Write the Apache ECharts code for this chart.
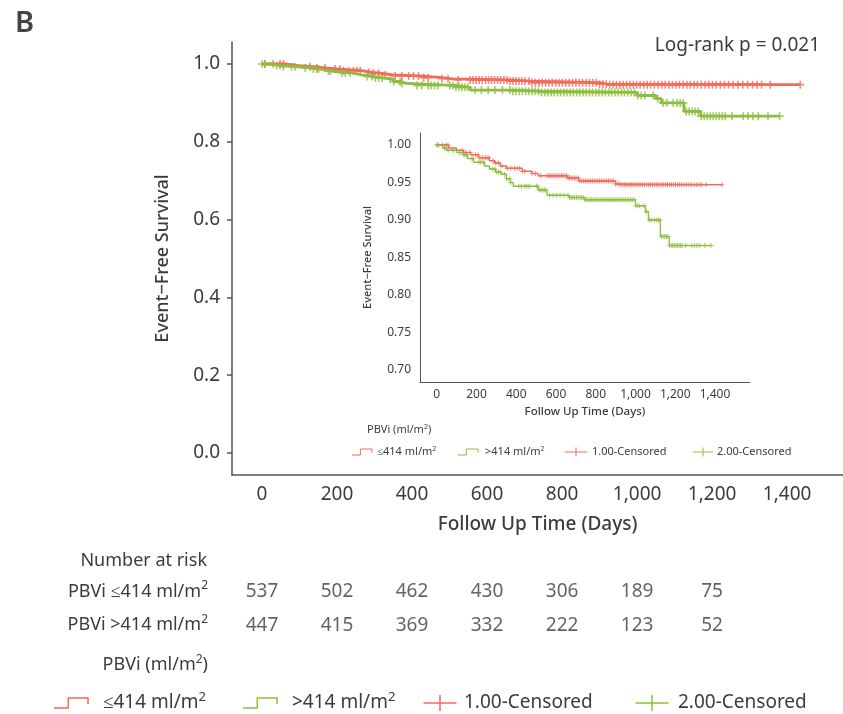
<!DOCTYPE html>
<html>
<head>
<meta charset="utf-8">
<script src="https://cdn.jsdelivr.net/npm/echarts@6/dist/echarts.min.js"></script>
<style>html,body{margin:0;padding:0;background:#fff}#chart{width:843px;height:714px}</style>
</head>
<body>
<div id="chart"></div>
<script>
var RED = '#F26B5B', GREEN = '#8DBE3F', TXT = '#3c3c3c', AXIS = '#555';
var FONT = 'Noto Sans';

// KM steps: time (days) and survival from that time on
var lowTimes = [0, 60, 100, 135, 170, 210, 265, 290, 320, 350, 430, 480, 510, 660, 715, 900, 920];
var lowSurv = [1.0, 0.996, 0.993, 0.990, 0.987, 0.983, 0.979, 0.976, 0.972, 0.969, 0.965, 0.962, 0.959, 0.956, 0.952, 0.948, 0.947];
var lowEnd = 1435;
var highTimes = [0, 30, 50, 100, 130, 155, 185, 240, 265, 295, 325, 350, 370, 385, 510, 555, 665, 745, 1000, 1050, 1065, 1125, 1170];
var highSurv = [1.0, 0.996, 0.993, 0.990, 0.987, 0.982, 0.977, 0.972, 0.968, 0.964, 0.961, 0.955, 0.950, 0.945, 0.940, 0.933, 0.930, 0.927, 0.919, 0.911, 0.900, 0.878, 0.866];
var highEnd = 1380;

// censoring times (days)
var lowCensor = [8, 30, 48, 57, 128, 146, 168, 195, 208, 217, 231, 244, 253, 262, 284, 297, 311, 328, 355, 373, 391, 404, 417, 431,
  443, 480, 496, 523, 555, 563, 571, 579, 587, 596, 604, 612, 620, 628, 636, 645, 653, 661, 669, 677, 685, 693,
  701, 712, 720, 729, 738, 747, 756, 765, 774, 783, 792, 801, 810, 819, 828, 837, 846, 855, 864, 873, 882, 891, 900, 909,
  918, 927, 936, 945, 954, 963, 972, 981, 990, 999, 1008, 1018, 1027, 1036, 1046, 1056, 1066, 1075, 1085, 1094, 1104,
  1113, 1123, 1133, 1142, 1152, 1161, 1171, 1181, 1191, 1201, 1211, 1222, 1233, 1244, 1256, 1269, 1282, 1295, 1308,
  1320, 1332, 1355, 1435];
var highCensor = [0, 8, 39, 48, 57, 79, 88, 115, 137, 146, 151, 177, 182, 213, 222, 235, 280, 293, 302, 311, 320, 342, 351,
  368, 373, 413, 426, 443, 451, 460, 469, 501, 509, 517, 525, 533, 541, 549, 568, 585, 603, 621, 641, 661, 669, 677, 686,
  694, 703, 711, 720, 728, 737, 745, 754, 762, 771, 779, 788, 796, 805, 813, 822, 830, 839, 847, 856, 864, 873, 881, 890,
  898, 907, 915, 924, 932, 941, 949, 958, 966, 975, 984, 993, 1002, 1011, 1021, 1043, 1055, 1069, 1079, 1096, 1107,
  1115, 1123, 1131, 1139, 1147, 1155, 1163, 1171, 1179, 1187, 1195, 1203, 1211, 1219, 1227, 1235, 1253, 1283, 1296,
  1309, 1323, 1349, 1380];

// number at risk
var riskTimes = [0, 200, 400, 600, 800, 1000, 1200];
var riskLow = [537, 502, 462, 430, 306, 189, 75];
var riskHigh = [447, 415, 369, 332, 222, 123, 52];
var riskRows = ['PBVi ≤414 ml/m', 'PBVi >414 ml/m'];

var mainYTicks = [0, 0.2, 0.4, 0.6, 0.8, 1.0];
var mainXTicks = [0, 200, 400, 600, 800, 1000, 1200, 1400];
var insetYTicks = [0.70, 0.75, 0.80, 0.85, 0.90, 0.95, 1.00];

function survAt(times, surv, t) {
  var s = surv[0];
  for (var i = 0; i < times.length; i++) { if (times[i] <= t) s = surv[i]; }
  return s;
}
function curve(times, surv, end) {
  var d = times.map(function (t, i) { return [t, surv[i]]; });
  d.push([end, surv[surv.length - 1]]);
  return d;
}
function censorPts(times, surv, cens) {
  return cens.map(function (t) { return [t, survAt(times, surv, t)]; });
}

var PLUS = 'path://M4,0h2v4h4v2h-4v4h-2v-4h-4v-2h4z';

function kmSeries(axis, lw, ms) {
  return [
    { type: 'line', xAxisIndex: axis, yAxisIndex: axis, step: 'end', showSymbol: false, silent: true,
      data: curve(lowTimes, lowSurv, lowEnd), lineStyle: { color: RED, width: lw } },
    { type: 'line', xAxisIndex: axis, yAxisIndex: axis, step: 'end', showSymbol: false, silent: true,
      data: curve(highTimes, highSurv, highEnd), lineStyle: { color: GREEN, width: lw } },
    { type: 'scatter', xAxisIndex: axis, yAxisIndex: axis, symbol: PLUS, symbolSize: ms, silent: true,
      data: censorPts(lowTimes, lowSurv, lowCensor), itemStyle: { color: RED } },
    { type: 'scatter', xAxisIndex: axis, yAxisIndex: axis, symbol: PLUS, symbolSize: ms, silent: true,
      data: censorPts(highTimes, highSurv, highCensor), itemStyle: { color: GREEN } }
  ];
}

function riskSeries(vals, row) {
  return {
    type: 'scatter', xAxisIndex: 2, yAxisIndex: 2, symbolSize: 1, silent: true,
    itemStyle: { color: 'transparent' },
    data: riskTimes.map(function (t, i) { return [t, row, vals[i]]; }),
    label: { show: true, position: 'inside', formatter: function (p) { return p.data[2]; },
      fontFamily: FONT, fontSize: 19, color: TXT }
  };
}

var supRich = function (size, lh) {
  return {
    b: { fontFamily: FONT, fontSize: size, color: TXT, lineHeight: lh },
    s: { fontFamily: FONT, fontSize: Math.round(size * 0.68), color: TXT, verticalAlign: 'top', lineHeight: Math.round(size * 0.75) }
  };
};

function txt(x, y, text, size, align, extra) {
  var st = { text: text, x: x, y: y, fontFamily: FONT, fontSize: size, fill: TXT,
    textAlign: align || 'left', textVerticalAlign: 'middle' };
  if (extra) for (var k in extra) st[k] = extra[k];
  return { type: 'text', style: st, silent: true };
}
function supTxt(x, y, base, sup, size, align, tail) {
  return txt(x, y, '{b|' + base + '}{s|' + sup + '}' + (tail ? '{b|' + tail + '}' : ''), size, align,
    { rich: supRich(size, Math.round(size * 1.3)) });
}
function stepIcon(x, y, w, h, color, lw) {
  return { type: 'polyline', silent: true,
    shape: { points: [[x, y + h / 2], [x + w * 0.42, y + h / 2], [x + w * 0.42, y - h / 2], [x + w, y - h / 2], [x + w, y + h * 0.1]] },
    style: { stroke: color, lineWidth: lw, fill: null } };
}
function plusIcon(cx, cy, w, h, color, lw) {
  return { type: 'group', silent: true, children: [
    { type: 'line', shape: { x1: cx - w / 2, y1: cy, x2: cx + w / 2, y2: cy }, style: { stroke: color, lineWidth: lw } },
    { type: 'line', shape: { x1: cx, y1: cy - h / 2, x2: cx, y2: cy + h / 2 }, style: { stroke: color, lineWidth: lw } }
  ] };
}

var chart = echarts.init(document.getElementById('chart'), null, { renderer: 'canvas' });

var option = {
  animation: false,
  backgroundColor: '#fff',
  grid: [
    { left: 232, top: 42, width: 611, height: 433 },
    { left: 420, top: 133, width: 330, height: 249 },
    { left: 232, top: 575, width: 611, height: 67 }
  ],
  xAxis: [
    { type: 'value', gridIndex: 0, min: -80, max: 1549, splitLine: { show: false },
      axisLine: { onZero: false, lineStyle: { color: AXIS, width: 1.5 } }, axisTick: { show: false },
      axisLabel: { customValues: mainXTicks, margin: 10, fontFamily: FONT, fontSize: 19, color: TXT,
        formatter: function (v) { return v.toLocaleString('en-US'); } },
      name: 'Follow Up Time (Days)', nameLocation: 'middle', nameGap: 40,
      nameTextStyle: { fontFamily: FONT, fontSize: 19, fontWeight: 500, color: TXT } },
    { type: 'value', gridIndex: 1, min: -84, max: 1576, splitLine: { show: false },
      axisLine: { onZero: false, lineStyle: { color: AXIS, width: 1 } }, axisTick: { show: false },
      axisLabel: { customValues: mainXTicks, margin: 7, fontFamily: FONT, fontSize: 12, color: TXT,
        formatter: function (v) { return v.toLocaleString('en-US'); } },
      name: 'Follow Up Time (Days)', nameLocation: 'middle', nameGap: 24,
      nameTextStyle: { fontFamily: FONT, fontSize: 11.5, fontWeight: 500, color: TXT } },
    { type: 'value', gridIndex: 2, min: -80, max: 1549, show: false }
  ],
  yAxis: [
    { type: 'value', gridIndex: 0, min: -0.0566, max: 1.0566, splitLine: { show: false },
      axisLine: { show: true, onZero: false, lineStyle: { color: AXIS, width: 1.5 } },
      axisTick: { show: true, customValues: mainYTicks, length: 5, lineStyle: { color: AXIS, width: 1.5 } },
      axisLabel: { customValues: mainYTicks, margin: 12, fontFamily: FONT, fontSize: 19, color: TXT,
        formatter: function (v) { return v.toFixed(1); } },
      name: 'Event−Free Survival', nameLocation: 'middle', nameGap: 60,
      nameTextStyle: { fontFamily: FONT, fontSize: 18, fontWeight: 500, color: TXT } },
    { type: 'value', gridIndex: 1, min: 0.684, max: 1.016, splitLine: { show: false },
      axisLine: { show: true, onZero: false, lineStyle: { color: AXIS, width: 1 } }, axisTick: { show: false },
      axisLabel: { customValues: insetYTicks, margin: 9, fontFamily: FONT, fontSize: 12, color: TXT,
        formatter: function (v) { return v.toFixed(2); } },
      name: 'Event−Free Survival', nameLocation: 'middle', nameGap: 47,
      nameTextStyle: { fontFamily: FONT, fontSize: 11, fontWeight: 500, color: TXT } },
    { type: 'category', gridIndex: 2, data: riskRows, inverse: true,
      axisLine: { show: false }, axisTick: { show: false },
      axisLabel: { margin: 24, formatter: function (v) { return '{b|' + v + '}{s|2}'; }, rich: supRich(18, 24) } }
  ],
  series: kmSeries(0, 2.8, 8).concat(kmSeries(1, 1.3, 5)).concat([
    riskSeries(riskLow, riskRows[0]),
    riskSeries(riskHigh, riskRows[1])
  ]),
  graphic: [
    txt(15, 24, 'B', 29, 'left', { fontWeight: 600, fill: '#444' }),
    txt(820, 46, 'Log-rank p = 0.021', 19, 'right'),
    // inset legend
    supTxt(367, 430, 'PBVi (ml/m', '2', 11, 'left', ')'),
    stepIcon(352, 452, 20, 6, RED, 1),
    supTxt(377, 452, '≤414 ml/m', '2', 11, 'left'),
    stepIcon(458, 452, 20, 6, GREEN, 1),
    supTxt(485, 452, '>414 ml/m', '2', 11, 'left'),
    plusIcon(576, 452, 22, 9, RED, 1),
    txt(592, 452, '1.00-Censored', 11, 'left'),
    plusIcon(703, 452, 20, 9, GREEN, 1),
    txt(717, 452, '2.00-Censored', 11, 'left'),
    // number at risk + bottom legend
    txt(207, 561, 'Number at risk', 18, 'right'),
    supTxt(208, 665, 'PBVi (ml/m', '2', 18, 'right', ')'),
    stepIcon(54, 703, 34, 10, RED, 1.5),
    supTxt(103, 703, '≤414 ml/m', '2', 19, 'left'),
    stepIcon(243, 703, 34, 10, GREEN, 1.5),
    supTxt(292, 703, '>414 ml/m', '2', 19, 'left'),
    plusIcon(440, 703, 33, 16, RED, 1.5),
    txt(464, 703, '1.00-Censored', 19, 'left'),
    plusIcon(652, 703, 33, 16, GREEN, 1.5),
    txt(678, 703, '2.00-Censored', 19, 'left')
  ]
};

chart.setOption(option);
</script>
</body>
</html>
